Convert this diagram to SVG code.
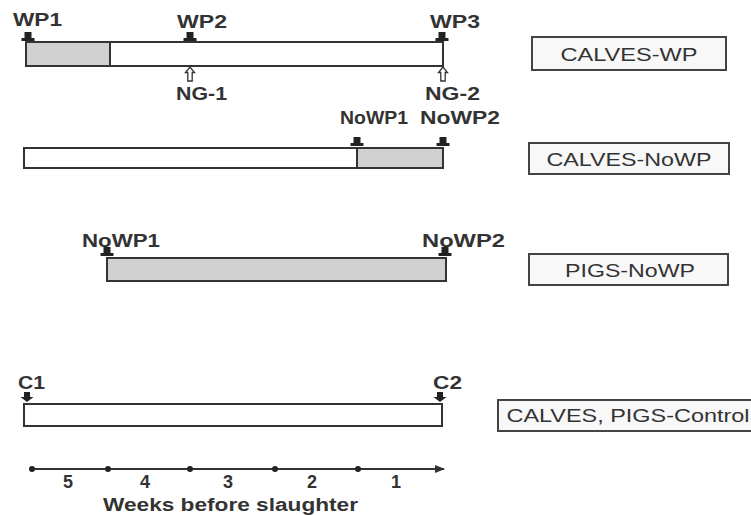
<svg xmlns="http://www.w3.org/2000/svg" width="751" height="515" viewBox="0 0 751 515">
<defs>
<style>
.bar{stroke:#333;stroke-width:2;fill:#fff}
.g{fill:#d0d0d0}
.lb{font-family:"Liberation Sans",Arial,sans-serif;font-weight:bold;font-size:17.5px;fill:#333}
.bt{font-family:"Liberation Sans",Arial,sans-serif;font-size:18.5px;fill:#333;text-anchor:middle}
.box{fill:#f8f8f8;stroke:#444;stroke-width:2}
.hol{fill:#fff;stroke:#333;stroke-width:1.3}
</style>
<path id="mk" d="M-3.5,-9 H3.5 V-3 H6.5 V0 H-6.5 V-3 H-3.5 Z" fill="#222"/>
<path id="mkd" d="M-3,-10 H3 V-5 H6.5 L0,0 L-6.5,-5 H-3 Z" fill="#222"/>
<path id="ng" d="M0,0 L-4.5,5.5 H-2.2 V14 H2.2 V5.5 H4.5 Z"/>
<marker id="ah" markerWidth="10" markerHeight="8" refX="9" refY="4" orient="auto" markerUnits="userSpaceOnUse">
<path d="M0,0 L10,4 L0,8 Z" fill="#333"/>
</marker>
</defs>

<g id="row-calves-wp">
<rect class="bar" x="26" y="42" width="417" height="24"/>
<rect class="bar g" x="26" y="42" width="84" height="24"/>
<use href="#mk" x="28" y="41"/>
<use href="#mk" x="190" y="41"/>
<use href="#mk" x="442" y="41"/>
<text class="lb" x="13" y="26" textLength="49" lengthAdjust="spacingAndGlyphs">WP1</text>
<text class="lb" x="177" y="28" textLength="50" lengthAdjust="spacingAndGlyphs">WP2</text>
<text class="lb" x="430" y="28" textLength="50" lengthAdjust="spacingAndGlyphs">WP3</text>
<use href="#ng" class="hol" x="190" y="67"/>
<use href="#ng" class="hol" x="443" y="67"/>
<text class="lb" x="176" y="100" textLength="51" lengthAdjust="spacingAndGlyphs">NG-1</text>
<text class="lb" x="425" y="100" textLength="55" lengthAdjust="spacingAndGlyphs">NG-2</text>
</g>

<g id="row-calves-nowp">
<rect class="bar" x="24" y="148" width="419" height="20"/>
<rect class="bar g" x="357" y="148" width="86" height="20"/>
<use href="#mk" x="357" y="146"/>
<use href="#mk" x="443" y="146"/>
<text class="lb" x="340" y="124" textLength="68" lengthAdjust="spacingAndGlyphs">NoWP1</text>
<text class="lb" x="420" y="124" textLength="80" lengthAdjust="spacingAndGlyphs">NoWP2</text>
</g>

<g id="row-pigs-nowp">
<rect class="bar g" x="107" y="258" width="339" height="23"/>
<use href="#mk" x="107" y="256"/>
<use href="#mk" x="445" y="256"/>
<text class="lb" x="82" y="247" textLength="78" lengthAdjust="spacingAndGlyphs">NoWP1</text>
<text class="lb" x="422" y="247" textLength="83" lengthAdjust="spacingAndGlyphs">NoWP2</text>
</g>

<g id="row-control">
<rect class="bar" x="24" y="404" width="418" height="22"/>
<use href="#mkd" x="27" y="402"/>
<use href="#mkd" x="440" y="402"/>
<text class="lb" x="18" y="389" textLength="27" lengthAdjust="spacingAndGlyphs">C1</text>
<text class="lb" x="433" y="389" textLength="29" lengthAdjust="spacingAndGlyphs">C2</text>
</g>

<g id="box-calves-wp">
<rect class="box" x="532" y="37" width="194" height="33"/>
<text class="bt" x="629" y="61" textLength="137" lengthAdjust="spacingAndGlyphs">CALVES-WP</text>
</g>
<g id="box-calves-nowp">
<rect class="box" x="529" y="143" width="200" height="31"/>
<text class="bt" x="629" y="166" textLength="165" lengthAdjust="spacingAndGlyphs">CALVES-NoWP</text>
</g>
<g id="box-pigs-nowp">
<rect class="box" x="529" y="254" width="199" height="31"/>
<text class="bt" x="630" y="277" textLength="130" lengthAdjust="spacingAndGlyphs">PIGS-NoWP</text>
</g>
<g id="box-control">
<rect class="box" x="498" y="400" width="260" height="31"/>
<text class="bt" x="628" y="422" textLength="243" lengthAdjust="spacingAndGlyphs">CALVES, PIGS-Control</text>
</g>

<g id="connectors">
<line x1="32" y1="469" x2="444" y2="469" stroke="#333" stroke-width="2" marker-end="url(#ah)"/>
</g>
<g id="axis">
<g fill="#222">
<circle cx="32" cy="469" r="3"/>
<circle cx="108" cy="469" r="3"/>
<circle cx="190" cy="469" r="3"/>
<circle cx="275" cy="469" r="3"/>
<circle cx="358" cy="469" r="3"/>
</g>
<g class="lb" text-anchor="middle" style="font-size:18px">
<text x="68" y="488">5</text>
<text x="145" y="488">4</text>
<text x="228" y="488">3</text>
<text x="312" y="488">2</text>
<text x="396" y="488">1</text>
</g>
<text class="lb" x="103" y="511" textLength="255" lengthAdjust="spacingAndGlyphs">Weeks before slaughter</text>
</g>
</svg>
